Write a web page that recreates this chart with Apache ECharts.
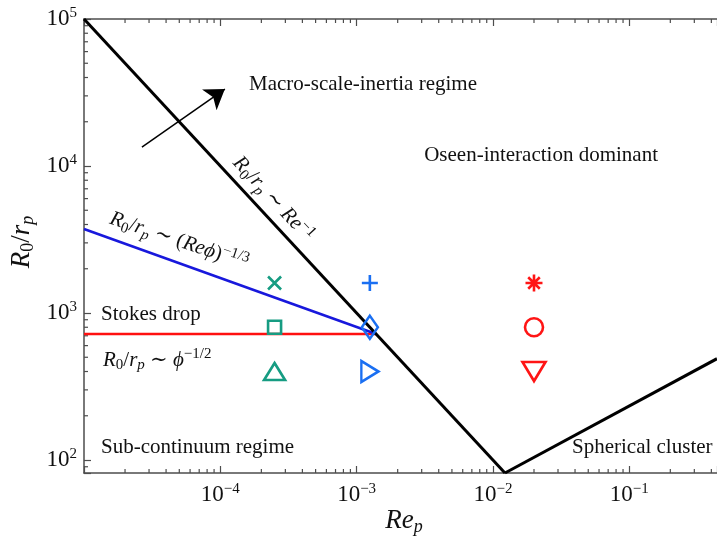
<!DOCTYPE html>
<html>
<head>
<meta charset="utf-8">
<script src="https://cdn.jsdelivr.net/npm/echarts@6/dist/echarts.min.js"></script>
<style>
  html, body { margin: 0; padding: 0; background: #fff; }
  #chart { width: 717px; height: 540px; }
</style>
</head>
<body>
<div id="chart"></div>
<script>
// axis extents
const reRange = [1e-5, 0.44]
const r0Range = [81.6, 1e5]

// regime boundaries as [Re_p, R0/rp]
const inertiaBoundary = [[1e-5, 1e5], [0.01225, 81.6]]   // R0/rp ~ Re^-1
const clusterBoundary = [[0.01225, 81.6], [0.44, 489]]   // spherical cluster branch
const viscousBoundary = [[1e-5, 3730], [1.39e-3, 720]]   // R0/rp ~ (Re phi)^-1/3
const stokesBoundary = [[1e-5, 720], [1.39e-3, 720]]     // R0/rp ~ phi^-1/2

// simulated cases: one column of markers per Re_p
const caseRe = [2.5e-4, 1.25e-3, 0.02]
const caseR0 = [1600, 800, 400]

// arrow pointing into the macro-scale-inertia regime
const arrowCoords = [[2.66e-5, 13460], [1.08e-4, 33400]]

const serif = '"Liberation Serif", "DejaVu Serif", serif'
const axisColor = '#4d4d4d'
const caseColors = ['#169c82', '#1a6ff2', '#ff1515']
const crossPath = 'path://M0,0L10,10M10,0L0,10'
const plusPath = 'path://M5,0L5,10M0,5L10,5'
const starPath = 'path://M5,0L5,10M0,5L10,5M1.6,1.6L8.4,8.4M8.4,1.6L1.6,8.4'
const caseSymbols = [
  [crossPath, 'rect', 'triangle'],
  [plusPath, 'diamond', 'triangle'],
  [starPath, 'circle', 'triangle']
]
const caseRotate = [[0, 0, 0], [0, 0, -90], [0, 0, 180]]
const caseSizes = [
  [13, 13, [21, 17]],
  [16, [16, 23], [21, 17]],
  [17, 18, [23, 19]]
]

function minorValues(lo, hi) {
  const out = []
  for (let e = Math.floor(Math.log10(lo)); e <= Math.ceil(Math.log10(hi)); e++) {
    for (let k = 2; k <= 9; k++) {
      const v = k * Math.pow(10, e)
      if (v > lo && v < hi) out.push(v)
    }
  }
  return out
}

function powLabel(v, skip) {
  const l = Math.log10(v)
  const e = Math.round(l)
  if (Math.abs(l - e) > 1e-6 || skip.indexOf(e) >= 0) return ''
  return '{b|10}{s|' + String(e).replace('-', '\u2212') + '}'
}

const labelRich = {
  b: { fontFamily: serif, fontSize: 23, lineHeight: 26, color: '#111' },
  s: { fontFamily: serif, fontSize: 15, lineHeight: 15, color: '#111', verticalAlign: 'top' }
}

const mathRich = {
  i: { fontFamily: serif, fontStyle: 'italic', fontSize: 21, lineHeight: 26, fill: '#111' },
  n: { fontFamily: serif, fontSize: 21, lineHeight: 26, fill: '#111' },
  sub: { fontFamily: serif, fontSize: 15, lineHeight: 15, fill: '#111', verticalAlign: 'bottom' },
  subi: { fontFamily: serif, fontStyle: 'italic', fontSize: 15, lineHeight: 15, fill: '#111', verticalAlign: 'bottom' },
  sup: { fontFamily: serif, fontSize: 15, lineHeight: 15, fill: '#111', verticalAlign: 'top' }
}
const titleRich = {
  i: { fontFamily: serif, fontStyle: 'italic', fontSize: 27, lineHeight: 30, fill: '#111' },
  n: { fontFamily: serif, fontSize: 27, lineHeight: 30, fill: '#111' },
  sub: { fontFamily: serif, fontSize: 18, lineHeight: 18, fill: '#111', verticalAlign: 'bottom' },
  subi: { fontFamily: serif, fontStyle: 'italic', fontSize: 18, lineHeight: 18, fill: '#111', verticalAlign: 'bottom' }
}
const R0rp = '{i|R}{sub|0}{n|/}{i|r}{subi|p}'

function plainText(text, x, y, align) {
  return {
    type: 'text', x, y, z: 10,
    style: { text, fill: '#111', fontFamily: serif, fontSize: 21, align: align || 'left', verticalAlign: 'middle' }
  }
}
function mathText(text, x, y, rotation, align, rich) {
  return {
    type: 'text', x, y, rotation: rotation || 0, z: 10,
    style: { text, rich: rich || mathRich, fill: '#111', fontFamily: serif, fontSize: 21, align: align || 'center', verticalAlign: 'middle' }
  }
}

const boundaryLine = (data, color, width) => ({
  type: 'line',
  data,
  showSymbol: false,
  symbol: 'none',
  silent: true,
  lineStyle: { color, width },
  z: 3
})

const tickLine = (x1, y1, x2, y2) => ({
  type: 'line',
  shape: { x1, y1, x2, y2 },
  style: { stroke: axisColor, lineWidth: 1.2 }
})

const chart = echarts.init(document.getElementById('chart'))
chart.setOption({
  animation: false,
  backgroundColor: '#fff',
  grid: { left: 84, top: 19, right: 0, bottom: 67, containLabel: false, outerBoundsMode: 'none' },
  xAxis: [{
    type: 'log',
    min: reRange[0],
    max: reRange[1],
    axisLine: { lineStyle: { color: axisColor, width: 1.5 } },
    axisTick: { inside: true, length: 7, lineStyle: { color: axisColor, width: 1.2 } },
    axisLabel: { margin: 9, formatter: v => powLabel(v, [-5]), rich: labelRich },
    splitLine: { show: false }
  }, {
    type: 'log',
    position: 'top',
    min: reRange[0],
    max: reRange[1],
    axisLine: { lineStyle: { color: axisColor, width: 1.5 } },
    axisTick: { inside: true, length: 7, lineStyle: { color: axisColor, width: 1.2 } },
    axisLabel: { show: false },
    splitLine: { show: false }
  }],
  yAxis: {
    type: 'log',
    min: r0Range[0],
    max: r0Range[1],
    axisLine: { show: true, lineStyle: { color: axisColor, width: 1.5 } },
    axisTick: { show: true, inside: true, length: 7, lineStyle: { color: axisColor, width: 1.2 } },
    axisLabel: { margin: 7, formatter: v => powLabel(v, []), rich: labelRich },
    splitLine: { show: false }
  },
  series: [
    {
      type: 'custom',
      silent: true,
      data: minorValues(reRange[0], reRange[1]).map(v => [v, r0Range[0]]),
      renderItem: (params, api) => {
        const b = api.coord([api.value(0), r0Range[0]])
        const t = api.coord([api.value(0), r0Range[1]])
        return { type: 'group', children: [tickLine(b[0], b[1], b[0], b[1] - 4), tickLine(t[0], t[1], t[0], t[1] + 4)] }
      },
      z: 1
    },
    {
      type: 'custom',
      silent: true,
      data: minorValues(r0Range[0], r0Range[1]).map(v => [reRange[0], v]),
      renderItem: (params, api) => {
        const p = api.coord([reRange[0], api.value(1)])
        return tickLine(p[0], p[1], p[0] + 4, p[1])
      },
      z: 1
    },
    boundaryLine(stokesBoundary, '#ff1010', 2.6),
    boundaryLine(viscousBoundary, '#1818dc', 2.6),
    boundaryLine(inertiaBoundary, '#000', 3),
    boundaryLine(clusterBoundary, '#000', 3),
    {
      type: 'lines',
      coordinateSystem: 'cartesian2d',
      silent: true,
      symbol: ['none', 'arrow'],
      symbolSize: [0, 19],
      lineStyle: { color: '#000', width: 1.5, opacity: 1 },
      data: [{ coords: arrowCoords }],
      z: 4
    },
    ...caseRe.map((re, gi) => ({
      type: 'scatter',
      silent: true,
      z: 5,
      data: caseR0.map((r0, li) => ({
        value: [re, r0],
        symbol: caseSymbols[gi][li],
        symbolRotate: caseRotate[gi][li],
        symbolSize: caseSizes[gi][li]
      })),
      itemStyle: { color: 'rgba(0,0,0,0)', borderColor: caseColors[gi], borderWidth: 2.6, opacity: 1 }
    }))
  ],
  graphic: [
    plainText('Macro-scale-inertia regime', 249, 84),
    plainText('Oseen-interaction dominant', 658, 155, 'right'),
    plainText('Stokes drop', 101, 314),
    plainText('Sub-continuum regime', 101, 447),
    plainText('Spherical cluster', 572, 447),
    mathText(R0rp + '{n| \u223c }{i|Re}{sup|\u22121}', 273, 199, -47.1 * Math.PI / 180),
    mathText(R0rp + '{n| \u223c (}{i|Re\u03d5}{n|)}{sup|\u22121/3}', 179, 241, -18.5 * Math.PI / 180),
    mathText(R0rp + '{n| \u223c }{i|\u03d5}{sup|\u22121/2}', 103, 360, 0, 'left'),
    mathText(R0rp, 22, 242, Math.PI / 2, 'center', titleRich),
    mathText('{i|Re}{subi|p}', 404, 521, 0, 'center', titleRich)
  ]
})
</script>
</body>
</html>
